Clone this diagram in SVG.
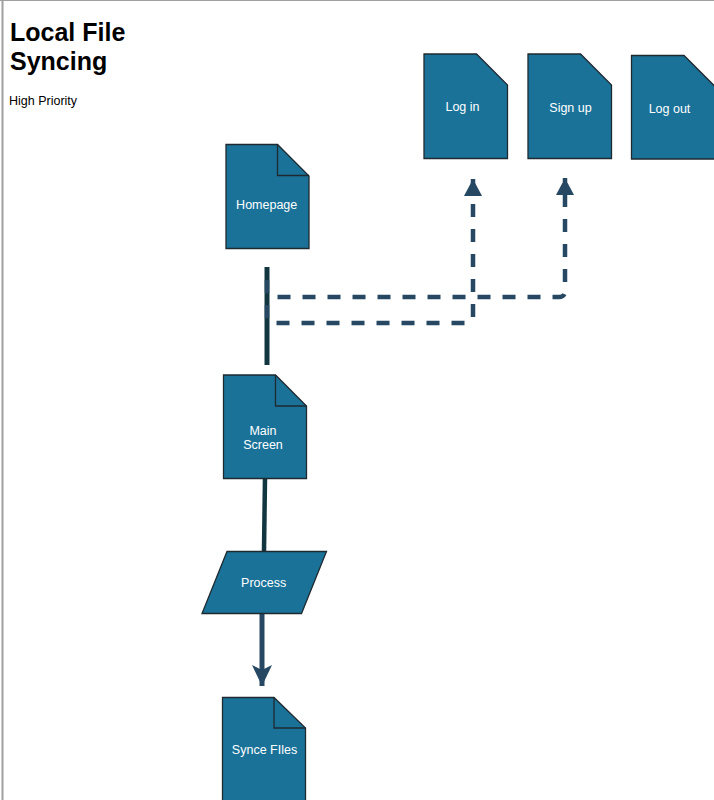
<svg xmlns="http://www.w3.org/2000/svg" width="714" height="800" viewBox="0 0 714 800">
<defs>
<style>
.doc{fill:#1a7299;stroke:#1e2a30;stroke-width:1.3;stroke-linejoin:miter}
.fold{fill:none;stroke:#1e2a30;stroke-width:1.3}
.lbl{font-family:"Liberation Sans",Arial,sans-serif;font-size:12.5px;fill:#ffffff;text-anchor:middle}
.dash{fill:none;stroke:#264863;stroke-width:4.5;stroke-dasharray:13 12}
.solid{fill:none;stroke:#12363f;stroke-width:5}
</style>
<marker id="tri" markerUnits="userSpaceOnUse" markerWidth="20" markerHeight="20" viewBox="0 0 20 20" refX="18" refY="10" orient="auto">
<path d="M1,1 L18,10 L1,19 Z" fill="#264863"/>
</marker>
<marker id="notch" markerUnits="userSpaceOnUse" markerWidth="22" markerHeight="22" viewBox="0 0 22 22" refX="21" refY="11" orient="auto">
<path d="M0,1 L21,11 L0,21 L5,11 Z" fill="#264863"/>
</marker>
</defs>
<rect x="0" y="0" width="714" height="800" fill="#ffffff"/>
<line x1="0" y1="0.5" x2="714" y2="0.5" stroke="#a0a0a0" stroke-width="1"/>
<line x1="2.5" y1="0" x2="2.5" y2="800" stroke="#a0a0a0" stroke-width="2"/>

<g id="title">
<text x="10" y="41" font-family="'Liberation Sans',Arial,sans-serif" font-size="25" font-weight="bold" fill="#000">Local File</text>
<text x="10" y="70" font-family="'Liberation Sans',Arial,sans-serif" font-size="25" font-weight="bold" fill="#000">Syncing</text>
<text x="9" y="105" font-family="'Liberation Sans',Arial,sans-serif" font-size="12.5" fill="#000">High Priority</text>
</g>

<g id="connectors">
<line x1="267" y1="267" x2="267" y2="365" class="solid"/>
<path d="M267,280 V291 Q267,297 273,297 H559 Q565,297 565,291 V178" class="dash" marker-end="url(#tri)"/>
<path d="M267,305 V317 Q267,323 273,323 H467 Q473,323 473,317 V179" class="dash" marker-end="url(#tri)"/>
<line x1="265" y1="478" x2="264" y2="551" stroke="#12363f" stroke-width="4.5"/>
<line x1="262" y1="613" x2="262" y2="686" stroke="#264863" stroke-width="5" marker-end="url(#notch)"/>
</g>

<g id="login">
<path d="M424,54 H476.5 L507.5,85 V158.5 H424 Z" class="doc"/>
<text x="462.5" y="111" class="lbl">Log in</text>
</g>
<g id="signup">
<path d="M528,54 H580.5 L611.5,85 V158.5 H528 Z" class="doc"/>
<text x="570.5" y="112" class="lbl">Sign up</text>
</g>
<g id="logout">
<path d="M631.5,55.5 H684 L715,86.5 V159 H631.5 Z" class="doc"/>
<text x="669.5" y="112.5" class="lbl">Log out</text>
</g>

<g id="homepage">
<path d="M226,144.5 H277.5 L309,176 V248.5 H226 Z" class="doc"/>
<path d="M277.5,144.5 V175.5 H309" class="fold"/>
<text x="266.7" y="209" class="lbl">Homepage</text>
</g>

<g id="mainscreen">
<path d="M223.5,375 H275.5 L306.5,406 V478.5 H223.5 Z" class="doc"/>
<path d="M275.5,375 V406 H306.5" class="fold"/>
<text x="263" y="435" class="lbl">Main</text>
<text x="263" y="448.5" class="lbl">Screen</text>
</g>

<g id="process">
<path d="M227,551.5 H326.5 L301.5,613.5 H202 Z" class="doc"/>
<text x="263.7" y="587" class="lbl">Process</text>
</g>

<g id="syncefiles">
<path d="M222.5,697.5 H274 L305.5,728 V801 H222.5 Z" class="doc"/>
<path d="M274,697.5 V728 H305.5" class="fold"/>
<text x="264.5" y="754" class="lbl">Synce FIles</text>
</g>
</svg>
